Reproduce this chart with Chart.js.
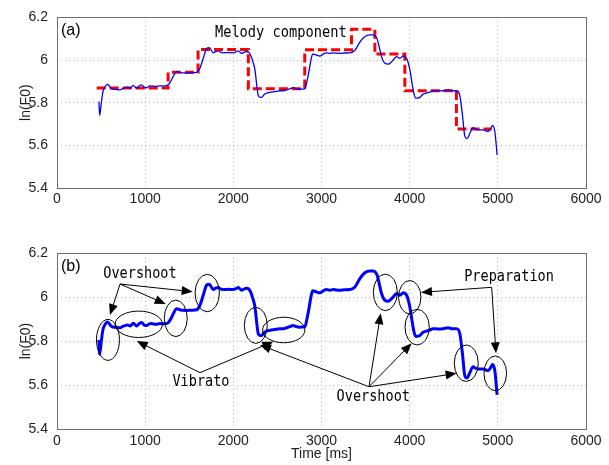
<!DOCTYPE html>
<html>
<head>
<meta charset="utf-8">
<script src="https://cdn.jsdelivr.net/npm/chart.js@4/dist/chart.umd.min.js"></script>
<style>
  body { margin: 0; background: #fff; }
  #wrap { position: relative; width: 609px; height: 465px; }
  canvas { position: absolute; left: 0; }
</style>
</head>
<body>
<div id="wrap">
  <canvas id="topChart" width="609" height="230" style="top:0"></canvas>
  <canvas id="bottomChart" width="609" height="235" style="top:230px"></canvas>
</div>
<script>
// F0 contour (time in ms, ln(F0))
var f0Time = [476, 484, 500, 520, 545, 571, 620, 670, 714, 745, 771, 800, 830, 865, 903, 930, 960, 990, 1017, 1045,
  1073, 1120, 1168, 1215, 1262, 1290, 1319, 1357, 1400, 1470, 1530, 1584, 1621, 1660, 1697, 1727, 1772, 1800, 1829, 1860,
  1886, 1950, 2000, 2030, 2056, 2094, 2120, 2150, 2176, 2196, 2220, 2245, 2271, 2283, 2300, 2320, 2350, 2377, 2410, 2453,
  2490, 2528, 2570, 2604, 2640, 2679, 2710, 2755, 2790, 2812, 2835, 2861, 2880, 2899, 2930, 2982, 3020, 3057, 3095, 3133,
  3170, 3209, 3260, 3322, 3379, 3435, 3492, 3549, 3580, 3605, 3632, 3655, 3681, 3719, 3757, 3790, 3813, 3851, 3889, 3927,
  3965, 3985, 4002, 4032, 4050, 4070, 4095, 4115, 4153, 4191, 4230, 4266, 4320, 4380, 4437, 4480, 4531, 4569, 4599, 4626,
  4652, 4683, 4720, 4750, 4777, 4834, 4890, 4920, 4940, 4966, 4980, 4992];
var f0Value = [5.805, 5.741, 5.79, 5.85, 5.875, 5.886, 5.866, 5.862, 5.860, 5.866, 5.870, 5.873, 5.868, 5.881, 5.868, 5.878, 5.884, 5.872, 5.870, 5.878,
  5.879, 5.876, 5.879, 5.878, 5.884, 5.90, 5.924, 5.947, 5.941, 5.939, 5.940, 5.942, 5.962, 6.01, 6.054, 6.058, 6.034, 6.040, 6.043, 6.036,
  6.034, 6.035, 6.034, 6.038, 6.043, 6.031, 6.036, 6.040, 6.036, 6.023, 5.995, 5.955, 5.863, 5.833, 5.826, 5.825, 5.838, 5.845, 5.848, 5.851,
  5.853, 5.856, 5.856, 5.860, 5.865, 5.871, 5.866, 5.863, 5.864, 5.866, 5.90, 5.955, 6.00, 6.028, 6.025, 6.019, 6.028, 6.034, 6.031, 6.034,
  6.032, 6.031, 6.033, 6.034, 6.046, 6.084, 6.110, 6.118, 6.118, 6.115, 6.098, 6.06, 6.016, 5.985, 5.981, 5.99, 6.000, 6.016, 6.008, 6.019,
  6.008, 5.985, 5.955, 5.879, 5.84, 5.821, 5.822, 5.825, 5.840, 5.845, 5.850, 5.856, 5.855, 5.856, 5.860, 5.856, 5.856, 5.833, 5.741, 5.642,
  5.632, 5.657, 5.683, 5.676, 5.673, 5.673, 5.665, 5.680, 5.693, 5.665, 5.61, 5.555];

// melody component: note start times and levels (last time = end of last note)
var melodyTime = [450, 1260, 1600, 2170, 2810, 3340, 3605, 3945, 4530, 4930];
var melodyLevel = [5.869, 5.943, 6.05, 5.866, 6.048, 6.145, 6.028, 5.856, 5.677];

var xTicks = [0, 1000, 2000, 3000, 4000, 5000, 6000];
var yTicks = [5.4, 5.6, 5.8, 6.0, 6.2];

var f0Points = f0Time.map(function (t, i) { return { x: t, y: f0Value[i] }; });
var melodyPoints = melodyTime.map(function (t, i) {
  return { x: t, y: melodyLevel[Math.min(i, melodyLevel.length - 1)] };
});

var tickFont = { family: '"Liberation Sans", Arial, sans-serif', size: 14 };
var monoFamily = '"DejaVu Sans Mono", monospace';

function monoText(ctx, text, cx, cy, charW) {
  ctx.save();
  ctx.font = '16px ' + monoFamily;
  var w = ctx.measureText(text).width;
  ctx.translate(cx, cy);
  ctx.scale(charW * text.length / w, 1);
  ctx.textAlign = 'center';
  ctx.textBaseline = 'middle';
  ctx.fillStyle = '#000';
  ctx.fillText(text, 0, 0);
  ctx.restore();
}

function arrow(ctx, x1, y1, x2, y2) {
  var a = Math.atan2(y2 - y1, x2 - x1);
  var len = 11, hw = 4.5;
  ctx.beginPath();
  ctx.moveTo(x1, y1);
  ctx.lineTo(x2 - Math.cos(a) * len * 0.8, y2 - Math.sin(a) * len * 0.8);
  ctx.stroke();
  ctx.beginPath();
  ctx.moveTo(x2, y2);
  ctx.lineTo(x2 - Math.cos(a) * len - Math.sin(a) * hw, y2 - Math.sin(a) * len + Math.cos(a) * hw);
  ctx.lineTo(x2 - Math.cos(a) * len + Math.sin(a) * hw, y2 - Math.sin(a) * len - Math.cos(a) * hw);
  ctx.closePath();
  ctx.fill();
}

var framePlugin = {
  id: 'frame',
  afterDatasetsDraw: function (chart) {
    var a = chart.chartArea, ctx = chart.ctx;
    ctx.save();
    ctx.strokeStyle = '#6e6e6e';
    ctx.lineWidth = 1;
    ctx.strokeRect(Math.round(a.left) + 0.5, Math.round(a.top) + 0.5, Math.round(a.right - a.left), Math.round(a.bottom - a.top));
    ctx.restore();
  }
};

function baseOptions(xHeight, padTop, withTitle) {
  return {
    responsive: false,
    animation: false,
    events: [],
    layout: { padding: { left: 0, right: 23, top: padTop, bottom: 0 } },
    plugins: { legend: { display: false }, tooltip: { enabled: false } },
    scales: {
      x: {
        type: 'linear', min: 0, max: 6000,
        afterBuildTicks: function (s) { s.ticks = xTicks.map(function (v) { return { value: v }; }); },
        afterFit: function (s) { s.height = xHeight; },
        ticks: { font: tickFont, color: '#222', padding: withTitle ? 4 : 3, maxRotation: 0,
          callback: function (v) { return String(v); } },
        grid: {
          drawTicks: false,
          color: function (c) { return (c.tick && (c.tick.value === 0 || c.tick.value === 6000)) ? 'rgba(0,0,0,0)' : '#b4b4b4'; }
        },
        border: { display: false, dash: [1, 3] },
        title: { display: withTitle, text: 'Time [ms]', font: { family: tickFont.family, size: 14 }, color: '#222',
          padding: { top: 0, bottom: 2 } }
      },
      y: {
        type: 'linear', min: 5.4, max: 6.2,
        afterBuildTicks: function (s) { s.ticks = yTicks.map(function (v) { return { value: v }; }); },
        afterFit: function (s) { s.width = 57; },
        ticks: { font: tickFont, color: '#222', padding: 9,
          callback: function (v) { return String(Number(v.toFixed(1))); } },
        grid: {
          drawTicks: false,
          color: function (c) { return (c.tick && (Math.abs(c.tick.value - 5.4) < 1e-6 || Math.abs(c.tick.value - 6.2) < 1e-6)) ? 'rgba(0,0,0,0)' : '#b4b4b4'; }
        },
        border: { display: false, dash: [1, 3] },
        title: { display: true, text: 'ln(F0)', font: { family: tickFont.family, size: 14 }, color: '#222',
          padding: { top: 18, bottom: 0 } }
      }
    }
  };
}

// ---------- panel (a) ----------
var topLabels = {
  id: 'topLabels',
  afterDraw: function (chart) {
    var ctx = chart.ctx, x = chart.scales.x, y = chart.scales.y;
    ctx.save();
    ctx.font = '16px ' + tickFont.family;
    ctx.fillStyle = '#000';
    ctx.textBaseline = 'middle';
    ctx.fillText('(a)', x.getPixelForValue(45), y.getPixelForValue(6.136));
    monoText(ctx, 'Melody component', x.getPixelForValue(2538), y.getPixelForValue(6.127), 8.23);
    ctx.restore();
  }
};

var topOpts = baseOptions(42, 13, false);
new Chart(document.getElementById('topChart').getContext('2d'), {
  type: 'line',
  data: {
    datasets: [
      { data: f0Points, borderColor: '#0000ff', borderWidth: 1.3, pointRadius: 0, fill: false,
        cubicInterpolationMode: 'monotone' },
      { data: melodyPoints, borderColor: '#ff0000', borderWidth: 3, pointRadius: 0, fill: false,
        stepped: true, borderDash: [9, 4] }
    ]
  },
  options: topOpts,
  plugins: [framePlugin, topLabels]
});

// ---------- panel (b) ----------
// ellipses: [centre time, centre ln(F0), half width ms, half height]
var ellipses = [
  [578, 5.805, 130, 0.093], [927, 5.876, 269, 0.060], [1347, 5.903, 130, 0.083], [1704, 6.018, 138, 0.085],
  [2255, 5.871, 130, 0.082], [2572, 5.850, 240, 0.058], [3724, 6.021, 136, 0.083], [4001, 5.999, 127, 0.076],
  [4085, 5.863, 138, 0.081], [4642, 5.699, 136, 0.083], [4971, 5.653, 128, 0.079]
];
var callouts = [
  { text: 'Overshoot', at: [941, 6.103], from: [715, 6.059], to: [[601, 5.918], [1233, 5.968], [1539, 6.024]] },
  { text: 'Vibrato', at: [1633, 5.615], from: [1622, 5.656], to: [[904, 5.800], [2453, 5.797]] },
  { text: 'Overshoot', at: [3587, 5.547], from: [3539, 5.592], to: [[2302, 5.782], [3671, 5.926], [4023, 5.790], [4533, 5.653]] },
  { text: 'Preparation', at: [5127, 6.092], from: [4930, 6.044], to: [[4128, 6.021], [4979, 5.744]] }
];

var bottomLabels = {
  id: 'bottomLabels',
  afterDraw: function (chart) {
    var ctx = chart.ctx, x = chart.scales.x, y = chart.scales.y;
    ctx.save();
    ctx.strokeStyle = '#000';
    ctx.fillStyle = '#000';
    ctx.lineWidth = 1;
    ellipses.forEach(function (e) {
      var cx = x.getPixelForValue(e[0]), cy = y.getPixelForValue(e[1]);
      var rx = x.getPixelForValue(e[0] + e[2]) - cx, ry = cy - y.getPixelForValue(e[1] + e[3]);
      ctx.beginPath();
      ctx.ellipse(cx, cy, rx, ry, 0, 0, Math.PI * 2);
      ctx.stroke();
    });
    callouts.forEach(function (c) {
      var fx = x.getPixelForValue(c.from[0]), fy = y.getPixelForValue(c.from[1]);
      c.to.forEach(function (p) {
        arrow(ctx, fx, fy, x.getPixelForValue(p[0]), y.getPixelForValue(p[1]));
      });
      monoText(ctx, c.text, x.getPixelForValue(c.at[0]), y.getPixelForValue(c.at[1]), 8.15);
    });
    ctx.font = '16px ' + tickFont.family;
    ctx.textBaseline = 'middle';
    ctx.fillText('(b)', x.getPixelForValue(45), y.getPixelForValue(6.138));
    ctx.restore();
  }
};

var bottomOpts = baseOptions(36, 23, true);
new Chart(document.getElementById('bottomChart').getContext('2d'), {
  type: 'line',
  data: {
    datasets: [
      { data: f0Points, borderColor: '#0000ff', borderWidth: 3, pointRadius: 0, fill: false,
        cubicInterpolationMode: 'monotone' }
    ]
  },
  options: bottomOpts,
  plugins: [framePlugin, bottomLabels]
});
</script>
</body>
</html>
